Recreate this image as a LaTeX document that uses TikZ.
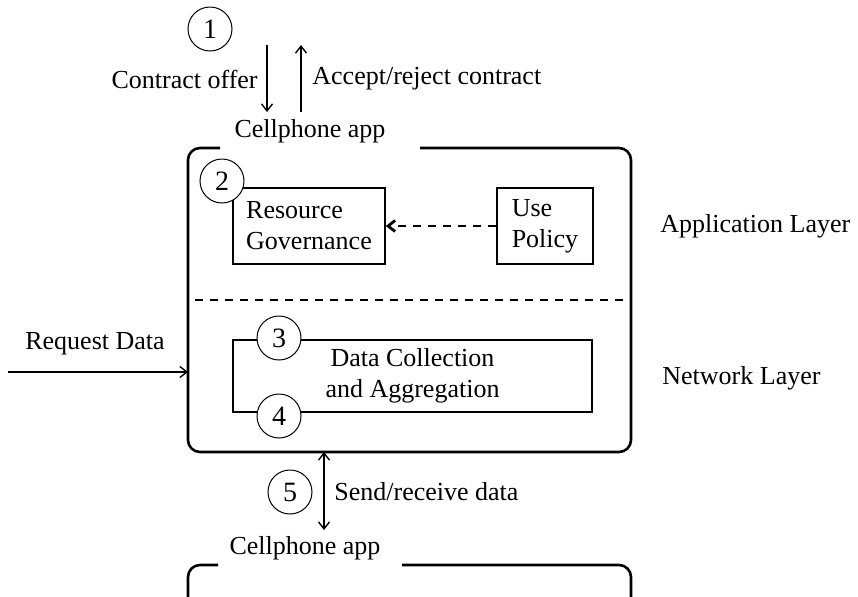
\documentclass[tikz,border=0pt]{standalone}
\usepackage{fontspec}
\setmainfont{Liberation Serif}
\usetikzlibrary{arrows.meta, positioning}

\begin{document}
\begin{tikzpicture}[
        x=0.5pt, y=-0.5pt,
        font=\fontsize{13}{15.5}\selectfont,
        >={Straight Barb[length=3.5pt, width=5.5pt]},
        box/.style={rectangle, draw=black, line width=0.8pt, align=left, inner sep=0pt},
        num/.style={circle, draw=black, fill=white, line width=0.5pt, minimum size=22pt, inner sep=0pt, font=\fontsize{14}{16}\selectfont},
        frame/.style={line width=1.3pt, rounded corners=6pt},
        lbl/.style={inner sep=0pt},
        arrow/.style={->, line width=0.7pt},
        darrow/.style={<->, line width=0.7pt},
        dasharrow/.style={->, line width=1.4pt, dash pattern=on 4pt off 3.5pt},
        sep/.style={line width=1.4pt, dash pattern=on 4pt off 3.5pt}
    ]
    \useasboundingbox (0,0) rectangle (858,596);

    % Step 1: contract exchange
    \node[num] (n1) at (210,29) {1};
    \coordinate (offtop) at (267,45);
    \coordinate (offbot) at (267,112);
    \coordinate (acctop) at (301,45);
    \coordinate (accbot) at (301,112);
    \draw[arrow] (offtop) -- (offbot);
    \draw[arrow] (accbot) -- (acctop);
    \node[lbl, anchor=east] (offer) at (258,79) {Contract offer};
    \node[lbl, anchor=west] (accept) at (312,79) {Accept/reject contract};

    % Cellphone app (upper)
    \node[lbl] (app) at (310,131) {Cellphone app};
    \draw[frame] (220,148) -| (188,452) -| (631,148) -- (420,148);
    \coordinate (reqin) at (188,372);

    % Application layer
    \node[box, minimum width=76pt, minimum height=38pt] (rg) at (309,226) {Resource\\Governance};
    \node[box, minimum width=48pt, minimum height=38pt] (policy) at (545,226) {Use\\Policy};
    \node[num] (n2) at (222,181) {2};
    \draw[dasharrow] (policy) -- (rg);
    \node[lbl, anchor=west] (appl) at (660,226) {Application Layer};

    % Layer separator
    \draw[sep] (195,300) -- (631,300);

    % Network layer
    \node[box, align=center, minimum width=179.5pt, minimum height=36pt] (dca) at (412.5,376) {Data Collection\\and Aggregation};
    \node[num] (n3) at (279,338) {3};
    \node[num] (n4) at (279,416) {4};
    \node[lbl, anchor=west] (netl) at (662,378) {Network Layer};

    % Request
    \node[lbl] (req) at (95,344) {Request Data};
    \coordinate (reqout) at (8,372);
    \draw[arrow] (reqout) -- (reqin);

    % Step 5: data exchange
    \coordinate (sendtop) at (324,452);
    \coordinate (sendbot) at (324,530);
    \draw[darrow] (sendtop) -- (sendbot);
    \node[num] (n5) at (290,492) {5};
    \node[lbl, anchor=west] (send) at (334,492) {Send/receive data};

    % Cellphone app (lower)
    \node[lbl] (app2) at (305,548) {Cellphone app};
    \draw[frame] (218,565) -| (188,600);
    \draw[frame] (402,565) -| (631,600);
\end{tikzpicture}
\end{document}
